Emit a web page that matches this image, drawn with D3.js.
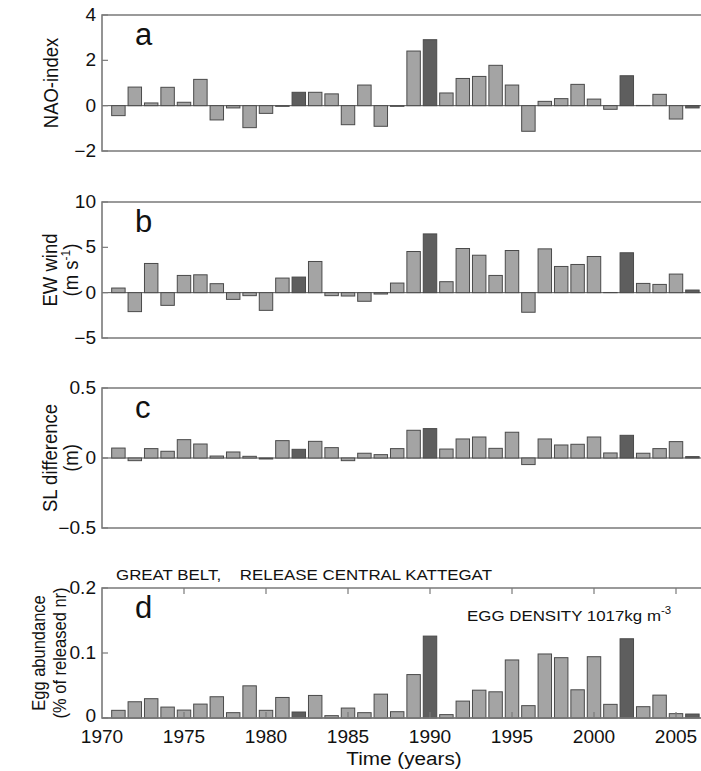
<!DOCTYPE html>
<html>
<head>
<meta charset="utf-8">
<script src="https://cdn.jsdelivr.net/npm/d3@7"></script>
<style>
  body { margin: 0; background: #fff; }
  svg text { font-family: "Liberation Sans", Arial, sans-serif; fill: #111; }
</style>
</head>
<body>
<svg id="chart" width="701" height="771"></svg>
<script>
// years 1971..2006
var years = d3.range(1971, 2007);
var darkYears = [1982, 1990, 2002, 2006];

var nao = [-0.44, 0.82, 0.12, 0.81, 0.15, 1.16, -0.63, -0.10, -0.97, -0.34,
           -0.03, 0.59, 0.59, 0.52, -0.84, 0.91, -0.91, -0.03, 2.41, 2.91,
           0.56, 1.20, 1.29, 1.78, 0.91, -1.13, 0.19, 0.31, 0.94, 0.29,
           -0.16, 1.32, 0.01, 0.50, -0.59, -0.10];

var ewWind = [0.51, -2.09, 3.22, -1.40, 1.90, 1.97, 0.99, -0.74, -0.33, -1.95,
              1.61, 1.72, 3.44, -0.33, -0.37, -0.95, -0.15, 1.06, 4.54, 6.48,
              1.21, 4.87, 4.13, 1.90, 4.65, -2.16, 4.83, 2.89, 3.11, 3.99,
              0.02, 4.40, 1.02, 0.91, 2.05, 0.29];

var slDiff = [0.071, -0.019, 0.067, 0.048, 0.131, 0.100, 0.014, 0.043, 0.012, -0.007,
              0.124, 0.062, 0.119, 0.074, -0.019, 0.034, 0.024, 0.067, 0.198, 0.210,
              0.064, 0.136, 0.150, 0.069, 0.184, -0.047, 0.136, 0.093, 0.098, 0.150,
              0.036, 0.162, 0.034, 0.067, 0.117, 0.010];

var eggs = [0.0118, 0.025, 0.0297, 0.0168, 0.0122, 0.0214, 0.0327, 0.0082, 0.0495, 0.0118,
            0.0316, 0.0092, 0.0347, 0.0036, 0.0153, 0.0082, 0.0367, 0.0097, 0.0668, 0.126,
            0.0052, 0.026, 0.0428, 0.0403, 0.0893, 0.019, 0.0985, 0.0928, 0.0434, 0.0943,
            0.021, 0.1219, 0.0174, 0.0352, 0.0067, 0.0061];

var xTicks = [1970, 1975, 1980, 1985, 1990, 1995, 2000, 2005];

var decFmt = function (d) { return d === 0 ? '0' : d3.format('.1f')(d); };

var panels = [
  { id: 'a', values: nao, domain: [-2, 4], ticks: [-2, 0, 2, 4], top: 15, bottom: 151,
    label: ['NAO-index'], labelSize: 18.5, labelX: 58, fmt: d3.format('d') },
  { id: 'b', values: ewWind, domain: [-5, 10], ticks: [-5, 0, 5, 10], top: 202, bottom: 338,
    label: ['EW wind', '(m s-1)'], labelSize: 18.5, labelX: 57, fmt: d3.format('d') },
  { id: 'c', values: slDiff, domain: [-0.5, 0.5], ticks: [-0.5, 0, 0.5], top: 388, bottom: 528,
    label: ['SL difference', '(m)'], labelSize: 18.5, labelX: 57, fmt: decFmt },
  { id: 'd', values: eggs, domain: [0, 0.2], ticks: [0, 0.1, 0.2], top: 588, bottom: 718,
    label: ['Egg abundance', '(% of released nr)'], labelSize: 16.5, labelX: 45, fmt: decFmt }
];

var svg = d3.select('#chart');
var left = 102;
var x = d3.scaleLinear().domain([1970, 2006.5]).range([left, 700.6]);
var barW = x(1970.82) - x(1970);

var axisColor = '#7a7a7a';
var stretch = 1.09;   // the figure's lettering is a bit wider than Arial

// horizontal text, stretched a little sideways
function htext(g, xx, yy, size, anchor) {
  return g.append('text')
    .attr('transform', 'translate(' + xx + ',' + yy + ') scale(' + stretch + ',1)')
    .attr('text-anchor', anchor || 'start')
    .attr('font-size', size);
}

panels.forEach(function (p) {
  var y = d3.scaleLinear().domain(p.domain).range([p.bottom, p.top]);
  var g = svg.append('g');

  // zero line
  g.append('line')
    .attr('x1', left).attr('x2', 701)
    .attr('y1', y(0)).attr('y2', y(0))
    .attr('stroke', '#555').attr('stroke-width', 1);

  // bars
  g.selectAll('rect.bar')
    .data(p.values)
    .enter().append('rect')
    .attr('class', 'bar')
    .attr('x', function (d, i) { return x(years[i]) - barW / 2; })
    .attr('width', barW)
    .attr('y', function (d) { return Math.min(y(d), y(0)); })
    .attr('height', function (d) { return Math.abs(y(d) - y(0)); })
    .attr('fill', function (d, i) { return darkYears.indexOf(years[i]) >= 0 ? '#5e5e5e' : '#a4a4a4'; })
    .attr('stroke', '#4a4a4a')
    .attr('stroke-width', 1);

  // frame: left, top, bottom
  g.append('path')
    .attr('d', 'M701,' + p.top + 'H' + left + 'V' + p.bottom + 'H701')
    .attr('fill', 'none')
    .attr('stroke', axisColor)
    .attr('stroke-width', 1.6);

  // y ticks (inward) + labels
  p.ticks.forEach(function (t) {
    g.append('line')
      .attr('x1', left).attr('x2', left + 6)
      .attr('y1', y(t)).attr('y2', y(t))
      .attr('stroke', axisColor).attr('stroke-width', 1.2);
    var ty = (p.id === 'd' && t === 0) ? y(t) + 4 : y(t) + 6;
    htext(g, 96, ty, 17.5, 'end').text(p.fmt(t));
  });

  // panel letter
  g.append('text')
    .attr('x', 135).attr('y', p.top + 30)
    .attr('font-size', 31)
    .text(p.id);

  // y label
  var cy = (p.top + p.bottom) / 2;
  p.label.forEach(function (line, li) {
    var t = g.append('text')
      .attr('transform', 'translate(' + (p.labelX + li * 21) + ',' + cy + ') rotate(-90) scale(1,' + stretch + ')')
      .attr('text-anchor', 'middle')
      .attr('font-size', p.labelSize);
    if (line === '(m s-1)') {
      t.append('tspan').text('(m s');
      t.append('tspan').attr('dy', -7).attr('font-size', 12).text('-1');
      t.append('tspan').attr('dy', 7).text(')');
    } else {
      t.text(line);
    }
  });

  // bottom panel: x ticks top and bottom, labels
  if (p.id === 'd') {
    xTicks.forEach(function (t) {
      if (t === 1970) return;
      g.append('line')
        .attr('x1', x(t)).attr('x2', x(t))
        .attr('y1', p.top).attr('y2', p.top + 6)
        .attr('stroke', axisColor).attr('stroke-width', 1.2);
      g.append('line')
        .attr('x1', x(t)).attr('x2', x(t))
        .attr('y1', p.bottom).attr('y2', p.bottom - 6)
        .attr('stroke', axisColor).attr('stroke-width', 1.2);
      });
    xTicks.forEach(function (t) {
      htext(g, x(t), 743, 17.5, 'middle').text(t);
    });
    htext(g, 404, 765, 19, 'middle').text('Time (years)');
    htext(g, 116, 580, 15.5, 'start')
      .style('white-space', 'pre')
      .text('GREAT BELT,    RELEASE CENTRAL KATTEGAT');
    var e = htext(g, 467, 621, 15.5, 'start');
    e.append('tspan').text('EGG DENSITY 1017kg m');
    e.append('tspan').attr('dy', -7).attr('font-size', 10.5).text('-3');
  }
});
</script>
</body>
</html>
